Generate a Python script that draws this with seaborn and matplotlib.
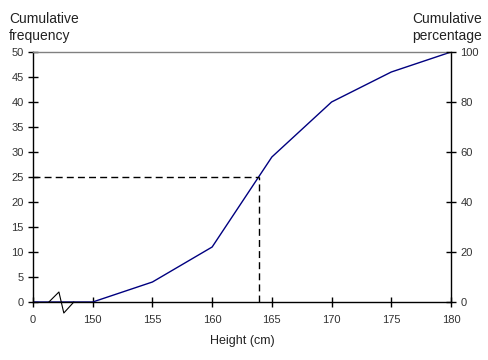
import numpy as np
import matplotlib
matplotlib.use("Agg")
import matplotlib.pyplot as plt
import seaborn as sns

# Cumulative frequency data (0 is shown through an axis break)
heights = [0, 150, 155, 160, 165, 170, 175, 180]
cum_freq = [0, 0, 4, 11, 29, 40, 46, 50]
x_ticks = [0, 150, 155, 160, 165, 170, 175, 180]
y_ticks = [0, 5, 10, 15, 20, 25, 30, 35, 40, 45, 50]
pct_ticks = [0, 20, 40, 60, 80, 100]
median_freq = 25


def to_pos(v):
    # broken x axis: 0..150 squeezed into one 5 cm step
    v = np.asarray(v, dtype=float)
    return np.where(v <= 150, 145 + v / 150 * 5, v)


sns.set_style("white")
plt.rcParams["font.family"] = ["Liberation Sans", "DejaVu Sans"]

fig = plt.figure(figsize=(4.89, 3.6), dpi=100)
ax = fig.add_axes([33 / 489, 58 / 360, 418 / 489, 250 / 360])

sns.lineplot(x=to_pos(heights), y=cum_freq, ax=ax, color="#000080", lw=1)

# median read-off
med_h = np.interp(median_freq, cum_freq[1:], heights[1:])
ax.plot([145, med_h], [median_freq, median_freq], color="black", lw=1, ls=(0, (5, 3)))
ax.plot([med_h, med_h], [0, median_freq], color="black", lw=1, ls=(0, (5, 3)))

# axis break zigzag
ax.plot([146.33, 147.17, 147.58, 148.42], [0, 2.0, -2.2, 0], color="black", lw=0.8,
        clip_on=False, zorder=5)

ax.set_xlim(145, 180)
ax.set_ylim(0, 50)
ax.set_xticks(to_pos(x_ticks))
ax.set_xticklabels([str(t) for t in x_ticks])
ax.set_yticks(y_ticks)

for s in ["left", "bottom", "right"]:
    ax.spines[s].set_color("black")
    ax.spines[s].set_linewidth(1)
ax.spines["top"].set_color("#808080")
ax.spines["top"].set_linewidth(1)

ax.tick_params(axis="both", direction="inout", length=6.5, width=1, colors="black",
               labelsize=8, labelcolor="#333333", left=True, bottom=True)
ax.tick_params(axis="x", pad=6)

ax2 = ax.twinx()
ax2.set_ylim(0, 100)
ax2.set_yticks(pct_ticks)
for s in ax2.spines.values():
    s.set_visible(False)
ax2.tick_params(axis="y", direction="inout", length=6.5, width=1, colors="black",
                labelsize=8, labelcolor="#333333", right=True)

ax.set_xlabel("Height (cm)", fontsize=9, color="#222222", labelpad=7)
fig.text(9 / 489, 1 - 12 / 360, "Cumulative\nfrequency", ha="left", va="top",
         fontsize=10, color="#222222", linespacing=1.25)
fig.text(482 / 489, 1 - 12 / 360, "Cumulative\npercentage", ha="right", va="top",
         fontsize=10, color="#222222", linespacing=1.25, multialignment="center")

fig.savefig("out.png", dpi=100)
